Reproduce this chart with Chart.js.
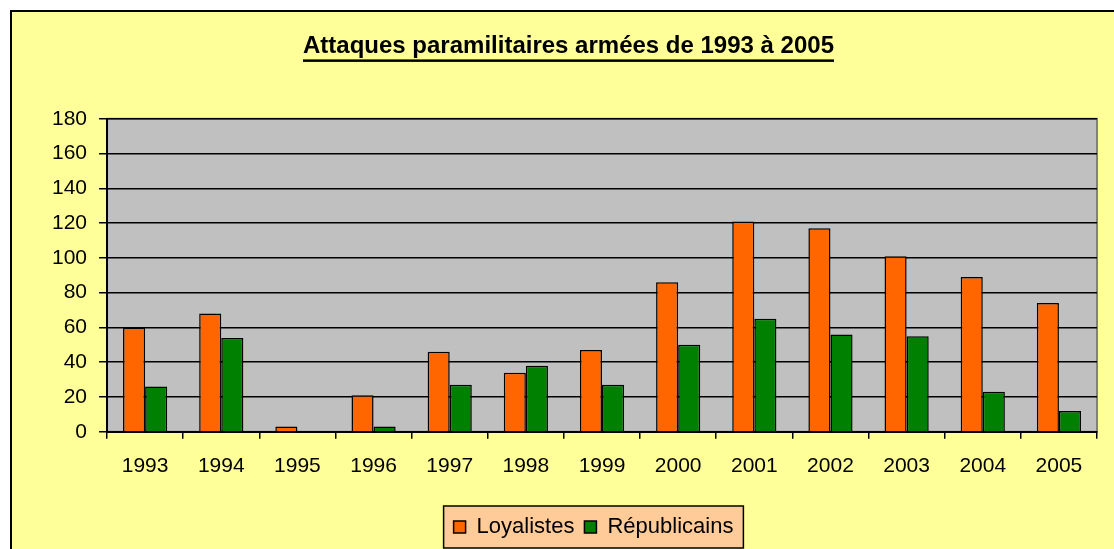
<!DOCTYPE html>
<html>
<head>
<meta charset="utf-8">
<script src="https://cdn.jsdelivr.net/npm/chart.js@4/dist/chart.umd.min.js"></script>
<style>
html, body { margin: 0; padding: 0; background: #fff; overflow: hidden; }
#wrap { width: 1114px; height: 549px; position: relative; }
</style>
</head>
<body>
<div id="wrap"><canvas id="chart"></canvas></div>
<script>
var years = ['1993', '1994', '1995', '1996', '1997', '1998', '1999', '2000', '2001', '2002', '2003', '2004', '2005'];
var loyalistes = [60, 68, 3, 21, 46, 34, 47, 86, 121, 117, 101, 89, 74];
var republicains = [26, 54, 0, 3, 27, 38, 27, 50, 65, 56, 55, 23, 12];

var FONT = 'Arial, "Liberation Sans", sans-serif';
var TITLE = 'Attaques paramilitaires armées de 1993 à 2005';

// yellow frame, grey plot area, peach legend box, underlined title
var decor = {
    id: 'decor',
    afterLayout: function(chart) {
        // the legend sits a bit right of centre in the original
        var lg = chart.legend, dx = 25;
        lg.left += dx; lg.right += dx;
        (lg.legendHitBoxes || []).forEach(function(h) { h.left += dx; });
    },
    beforeDraw: function(chart) {
        var ctx = chart.ctx;
        var a = chart.chartArea;
        ctx.save();
        ctx.fillStyle = '#FFFF99';
        ctx.fillRect(10, 10, chart.width, chart.height);
        ctx.strokeStyle = '#000';
        ctx.lineWidth = 2;
        ctx.beginPath();
        ctx.moveTo(11, chart.height);
        ctx.lineTo(11, 11);
        ctx.lineTo(chart.width, 11);
        ctx.stroke();

        ctx.fillStyle = '#C0C0C0';
        ctx.fillRect(a.left, a.top, a.right - a.left, a.bottom - a.top);
        ctx.strokeStyle = '#808080';
        ctx.lineWidth = 2;
        ctx.strokeRect(a.left, a.top, a.right - a.left, a.bottom - a.top);

        var boxes = chart.legend.legendHitBoxes;
        if (boxes && boxes.length) {
            var l = Infinity, r = -Infinity, t = Infinity, b = -Infinity;
            boxes.forEach(function(h) {
                l = Math.min(l, h.left); r = Math.max(r, h.left + h.width);
                t = Math.min(t, h.top); b = Math.max(b, h.top + h.height);
            });
            ctx.fillStyle = '#FFCC99';
            ctx.fillRect(l - 10, t - 10, r - l + 20, b - t + 20);
            ctx.strokeStyle = '#000';
            ctx.lineWidth = 1.5;
            ctx.strokeRect(l - 10, t - 10, r - l + 20, b - t + 20);
        }
        ctx.restore();
    },
    afterDraw: function(chart) {
        var ctx = chart.ctx;
        var tb = chart.titleBlock;
        var opts = chart.options.plugins.title;
        ctx.save();
        ctx.font = 'bold ' + opts.font.size + 'px ' + FONT;
        var w = ctx.measureText(TITLE).width;
        var cx = (tb.left + tb.right) / 2;
        var y = tb.top + opts.padding.top + opts.font.size * 1.2 / 2 + 13;
        ctx.fillStyle = '#000';
        ctx.fillRect(cx - w / 2, y, w, 2.5);
        ctx.restore();
    }
};

new Chart('chart', {
    type: 'bar',
    data: {
        labels: years,
        datasets: [
            {
                label: 'Loyalistes',
                data: loyalistes,
                backgroundColor: '#FF6600',
                borderColor: '#000',
                borderWidth: 1.5
            },
            {
                label: 'Républicains',
                data: republicains,
                backgroundColor: '#008000',
                borderColor: '#000',
                borderWidth: 1.5
            }
        ]
    },
    options: {
        responsive: true,
        maintainAspectRatio: false,
        animation: false,
        layout: { padding: { left: 40, right: 17, top: 10, bottom: 1 } },
        datasets: {
            bar: { categoryPercentage: 0.58, barPercentage: 1.0 }
        },
        scales: {
            x: {
                offset: true,
                grid: {
                    offset: true,
                    drawOnChartArea: false,
                    drawTicks: true,
                    tickLength: 7,
                    color: '#000',
                    lineWidth: 1.5
                },
                border: { color: '#000', width: 2 },
                ticks: { color: '#000', font: { family: FONT, size: 21 }, padding: 15 },
                afterFit: function(scale) { scale.height += 12; }
            },
            y: {
                min: 0,
                max: 180,
                ticks: { stepSize: 20, color: '#000', font: { family: FONT, size: 21 }, padding: 12 },
                grid: { color: '#000', lineWidth: 1.5, tickLength: 8 },
                border: { color: '#000', width: 2 }
            }
        },
        plugins: {
            title: {
                display: true,
                text: TITLE,
                color: '#000',
                font: { family: FONT, size: 24, weight: 'bold' },
                padding: { top: 22, bottom: 58 }
            },
            legend: {
                position: 'bottom',
                labels: {
                    color: '#000',
                    font: { family: FONT, size: 22 },
                    boxWidth: 12,
                    boxHeight: 12,
                    padding: 10
                }
            },
            tooltip: { enabled: false }
        }
    },
    plugins: [decor]
});
</script>
</body>
</html>
